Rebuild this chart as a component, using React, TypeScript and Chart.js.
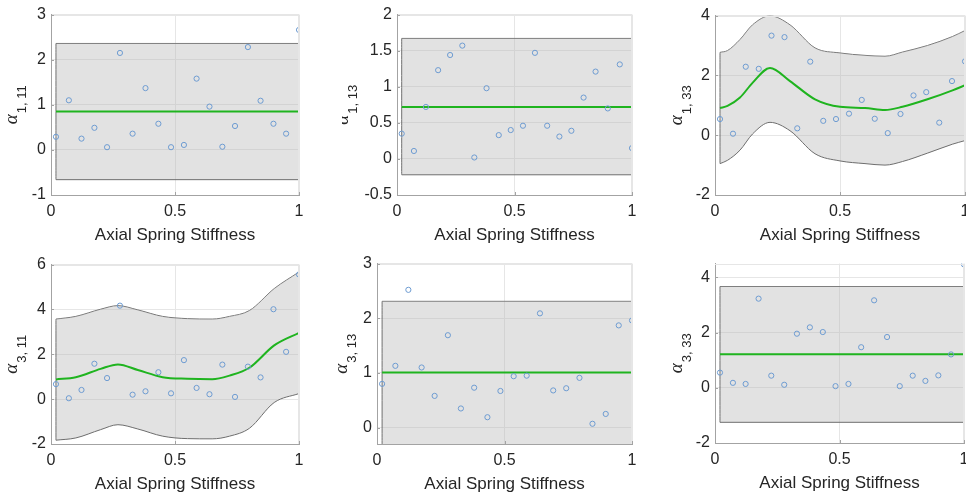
import React, { useEffect, useRef } from 'react';
import { Chart, registerables } from 'chart.js';

Chart.register(...registerables);
Chart.defaults.font.family = '"Liberation Sans", Arial, sans-serif';

// ---------- data ----------
const sampleX = [0.02, 0.072, 0.123, 0.175, 0.226, 0.278, 0.329, 0.381, 0.433, 0.484, 0.536, 0.587, 0.639, 0.691, 0.742, 0.794, 0.845, 0.897, 0.948, 1.0];
const xTicks = [0, 0.5, 1];
const xTitle = 'Axial Spring Stiffness';

// alpha 1,11
const a1_11 = [0.29, 1.10, 0.25, 0.49, 0.06, 2.15, 0.36, 1.37, 0.58, 0.06, 0.11, 1.58, 0.96, 0.07, 0.53, 2.28, 1.09, 0.58, 0.36, 2.66];
const a1_11BandX = [0.02, 1.0];
const a1_11Mean = [0.85, 0.85];
const a1_11Upper = [2.36, 2.36];
const a1_11Lower = [-0.66, -0.66];
const a1_11Ticks = [-1, 0, 1, 2, 3];

// alpha 1,13
const a1_13 = [0.35, 0.11, 0.72, 1.23, 1.44, 1.57, 0.02, 0.98, 0.33, 0.40, 0.46, 1.47, 0.46, 0.31, 0.39, 0.85, 1.21, 0.70, 1.31, 0.15];
const a1_13BandX = [0.02, 1.0];
const a1_13Mean = [0.72, 0.72];
const a1_13Upper = [1.67, 1.67];
const a1_13Lower = [-0.22, -0.22];
const a1_13Ticks = [-0.5, 0, 0.5, 1, 1.5, 2];

// alpha 1,33
const a1_33 = [0.54, 0.05, 2.29, 2.22, 3.33, 3.28, 0.23, 2.46, 0.48, 0.54, 0.72, 1.18, 0.55, 0.07, 0.71, 1.33, 1.44, 0.42, 1.81, 2.47];
const a1_33BandX = [0.02, 0.05, 0.1, 0.15, 0.22, 0.3, 0.4, 0.5, 0.6, 0.68, 0.75, 0.85, 0.95, 1.0];
const a1_33Mean = [0.91, 0.98, 1.26, 1.75, 2.25, 1.81, 1.2, 0.95, 0.91, 0.84, 0.95, 1.2, 1.5, 1.67];
const a1_33Upper = [2.77, 2.83, 3.2, 3.69, 3.99, 3.69, 2.92, 2.75, 2.67, 2.64, 2.78, 3.0, 3.3, 3.5];
const a1_33Lower = [-0.95, -0.84, -0.5, 0.04, 0.43, 0.15, -0.62, -0.86, -0.95, -1.0, -0.88, -0.6, -0.3, -0.18];
const a1_33Ticks = [-2, 0, 2, 4];

// alpha 3,11
const a3_11 = [0.67, 0.04, 0.41, 1.58, 0.94, 4.17, 0.20, 0.35, 1.20, 0.26, 1.74, 0.50, 0.22, 1.54, 0.10, 1.45, 0.97, 4.01, 2.11, 5.56];
const a3_11BandX = [0.02, 0.1, 0.2, 0.27, 0.35, 0.45, 0.55, 0.65, 0.72, 0.8, 0.9, 1.0];
const a3_11Mean = [0.88, 0.98, 1.35, 1.55, 1.30, 0.98, 0.91, 0.89, 1.05, 1.4, 2.4, 2.96];
const a3_11Upper = [3.57, 3.69, 4.01, 4.17, 3.98, 3.69, 3.59, 3.57, 3.69, 3.95, 4.93, 5.67];
const a3_11Lower = [-1.83, -1.73, -1.36, -1.14, -1.33, -1.65, -1.76, -1.77, -1.65, -1.3, -0.15, 0.25];
const a3_11Ticks = [-2, 0, 2, 4, 6];

// alpha 3,13
const a3_13 = [0.80, 1.13, 2.52, 1.10, 0.58, 1.69, 0.35, 0.73, 0.19, 0.67, 0.94, 0.95, 2.09, 0.68, 0.72, 0.91, 0.07, 0.25, 1.87, 1.96];
const a3_13BandX = [0.02, 1.0];
const a3_13Mean = [1.01, 1.01];
const a3_13Upper = [2.31, 2.31];
const a3_13Lower = [-0.35, -0.35];
const a3_13Ticks = [0, 1, 2, 3];

// alpha 3,33
const a3_33 = [0.55, 0.18, 0.14, 3.23, 0.44, 0.11, 1.96, 2.19, 2.02, 0.06, 0.14, 1.47, 3.17, 1.84, 0.06, 0.44, 0.25, 0.45, 1.21, 4.47];
const a3_33BandX = [0.02, 1.0];
const a3_33Mean = [1.22, 1.22];
const a3_33Upper = [3.67, 3.67];
const a3_33Lower = [-1.25, -1.25];
const a3_33Ticks = [-2, 0, 2, 4];

// ---------- layout / style ----------
const TEXT = '#262626';
const AXIS = '#a3a3a3';
const GRID = '#e6e6e6';
const PAD_TOP = 12;
const PAD_RIGHT = 12;
const Y_W = 55;
const X_H = 55;

type Panel = {
  sub: string;
  samples: number[];
  bandX: number[];
  mean: number[];
  upper: number[];
  lower: number[];
  ticks: number[];
  yMin: number;
  yMax: number;
  rect: [number, number, number, number];
  labelX: number;
};

const panels: Panel[] = [
  { sub: '1, 11', samples: a1_11, bandX: a1_11BandX, mean: a1_11Mean, upper: a1_11Upper, lower: a1_11Lower, ticks: a1_11Ticks, yMin: -1, yMax: 3, rect: [51, 12, 299, 195], labelX: 16.5 },
  { sub: '1, 13', samples: a1_13, bandX: a1_13BandX, mean: a1_13Mean, upper: a1_13Upper, lower: a1_13Lower, ticks: a1_13Ticks, yMin: -0.5, yMax: 2, rect: [397, 12, 632, 195], labelX: 348 },
  { sub: '1, 33', samples: a1_33, bandX: a1_33BandX, mean: a1_33Mean, upper: a1_33Upper, lower: a1_33Lower, ticks: a1_33Ticks, yMin: -2, yMax: 4, rect: [715, 13, 965, 195], labelX: 681.5 },
  { sub: '3, 11', samples: a3_11, bandX: a3_11BandX, mean: a3_11Mean, upper: a3_11Upper, lower: a3_11Lower, ticks: a3_11Ticks, yMin: -2, yMax: 6, rect: [51, 262, 299, 444], labelX: 16.5 },
  { sub: '3, 13', samples: a3_13, bandX: a3_13BandX, mean: a3_13Mean, upper: a3_13Upper, lower: a3_13Lower, ticks: a3_13Ticks, yMin: -0.3, yMax: 3, rect: [377, 261, 632, 444], labelX: 346.5 },
  { sub: '3, 33', samples: a3_33, bandX: a3_33BandX, mean: a3_33Mean, upper: a3_33Upper, lower: a3_33Lower, ticks: a3_33Ticks, yMin: -2, yMax: 4.5, rect: [715, 261, 964, 443], labelX: 681.5 },
];

const decorPlugin = {
  id: 'decor',
  afterDraw(chart: any, _args: any, opts: any) {
    const { ctx, chartArea: a, scales } = chart;
    ctx.save();
    // top & right box lines
    ctx.strokeStyle = GRID;
    ctx.lineWidth = 1;
    ctx.beginPath();
    ctx.moveTo(a.left, Math.round(a.top) + 0.5);
    ctx.lineTo(a.right, Math.round(a.top) + 0.5);
    ctx.moveTo(Math.round(a.right) - 0.5, a.top);
    ctx.lineTo(Math.round(a.right) - 0.5, a.bottom);
    ctx.stroke();
    // inward tick marks
    ctx.strokeStyle = AXIS;
    ctx.beginPath();
    scales.y.ticks.forEach((t: any) => {
      const py = Math.round(scales.y.getPixelForValue(t.value)) + 0.5;
      ctx.moveTo(a.left, py);
      ctx.lineTo(a.left + 3, py);
    });
    scales.x.ticks.forEach((t: any) => {
      const px = Math.round(scales.x.getPixelForValue(t.value)) + 0.5;
      ctx.moveTo(px, a.bottom);
      ctx.lineTo(px, a.bottom - 3);
    });
    ctx.stroke();
    // y-axis label: alpha with subscript
    const cy = (a.top + a.bottom) / 2;
    ctx.translate(opts.labelX, cy);
    ctx.rotate(-Math.PI / 2);
    const alphaFont = 'italic 19px "Liberation Serif", "DejaVu Serif", serif';
    const subFont = '13px "Liberation Sans", Arial, sans-serif';
    ctx.font = alphaFont;
    const w1 = ctx.measureText('\u03b1').width;
    ctx.font = subFont;
    const w2 = ctx.measureText(opts.sub).width;
    const gap = 1;
    const start = -(w1 + gap + w2) / 2;
    ctx.fillStyle = TEXT;
    ctx.textBaseline = 'alphabetic';
    ctx.textAlign = 'left';
    ctx.font = alphaFont;
    ctx.fillText('\u03b1', start, 0);
    ctx.font = subFont;
    ctx.fillText(opts.sub, start + w1 + gap, 9);
    ctx.restore();
  },
};

const fmt = (v: any) => String(Number(v));

function PanelChart({ p }: { p: Panel }) {
  const ref = useRef<HTMLCanvasElement>(null);
  const [L, T, R, B] = p.rect;
  const cLeft = L - Y_W;
  const cTop = T - PAD_TOP;
  const cW = R - L + Y_W + PAD_RIGHT;
  const cH = B - T + PAD_TOP + X_H;

  useEffect(() => {
    if (!ref.current) return;
    const pts = (xs: number[], ys: number[]) => xs.map((x, i) => ({ x, y: ys[i] }));
    const n = p.bandX.length - 1;
    const lineBase = {
      type: 'scatter' as const,
      showLine: true,
      pointRadius: 0,
      pointHoverRadius: 0,
      cubicInterpolationMode: 'monotone' as const,
    };
    const chart = new Chart(ref.current, {
      type: 'scatter',
      data: {
        datasets: [
          { ...lineBase, data: pts(p.bandX, p.upper), borderColor: '#6e6e6e', borderWidth: 1, fill: false, order: 5 },
          { ...lineBase, data: pts(p.bandX, p.lower), borderColor: '#6e6e6e', borderWidth: 1, fill: '-1', backgroundColor: 'rgba(185,185,185,0.42)', order: 4 },
          { ...lineBase, data: [{ x: p.bandX[0], y: p.lower[0] }, { x: p.bandX[0], y: p.upper[0] }], borderColor: '#6e6e6e', borderWidth: 1, fill: false, order: 3 },
          { ...lineBase, data: [{ x: p.bandX[n], y: p.lower[n] }, { x: p.bandX[n], y: p.upper[n] }], borderColor: '#6e6e6e', borderWidth: 1, fill: false, order: 3 },
          { ...lineBase, data: pts(p.bandX, p.mean), borderColor: '#1fb41f', borderWidth: 2, fill: false, order: 1 },
          {
            type: 'scatter',
            data: pts(sampleX, p.samples),
            pointStyle: 'circle',
            pointRadius: 2.6,
            pointBorderWidth: 1,
            pointBorderColor: '#6d9bd1',
            pointBackgroundColor: 'rgba(0,0,0,0)',
            showLine: false,
            order: 0,
          } as any,
        ] as any,
      },
      options: {
        animation: false,
        responsive: false,
        devicePixelRatio: 1,
        events: [],
        layout: { padding: { top: PAD_TOP, right: PAD_RIGHT, left: 0, bottom: 0 } },
        plugins: {
          legend: { display: false },
          tooltip: { enabled: false },
          decor: { sub: p.sub, labelX: p.labelX - cLeft },
        } as any,
        scales: {
          x: {
            type: 'linear',
            min: 0,
            max: 1,
            afterBuildTicks: (s: any) => { s.ticks = xTicks.map((v) => ({ value: v })); },
            afterFit: (s: any) => { s.height = X_H; },
            grid: { color: GRID, drawTicks: false },
            border: { color: AXIS, width: 1 },
            ticks: { padding: 7, color: TEXT, font: { size: 16 }, maxRotation: 0, callback: fmt },
            title: { display: true, text: xTitle, color: TEXT, font: { size: 17 }, padding: { top: 0, bottom: 4 } },
          },
          y: {
            type: 'linear',
            min: p.yMin,
            max: p.yMax,
            afterBuildTicks: (s: any) => { s.ticks = p.ticks.map((v) => ({ value: v })); },
            afterFit: (s: any) => { s.width = Y_W; },
            grid: { color: GRID, drawTicks: false },
            border: { color: AXIS, width: 1 },
            ticks: { padding: 5, color: TEXT, font: { size: 16 }, callback: fmt },
          },
        },
      },
      plugins: [decorPlugin],
    } as any);
    return () => chart.destroy();
  }, []);

  return (
    <div style={{ position: 'absolute', left: cLeft, top: cTop, width: cW, height: cH }}>
      <canvas ref={ref} width={cW} height={cH} style={{ display: 'block', width: cW, height: cH }} />
    </div>
  );
}

export default function App() {
  return (
    <div style={{ position: 'fixed', left: 0, top: 0, width: 966, height: 496, overflow: 'hidden', background: '#fff' }}>
      {panels.map((p, i) => (
        <PanelChart key={i} p={p} />
      ))}
    </div>
  );
}
